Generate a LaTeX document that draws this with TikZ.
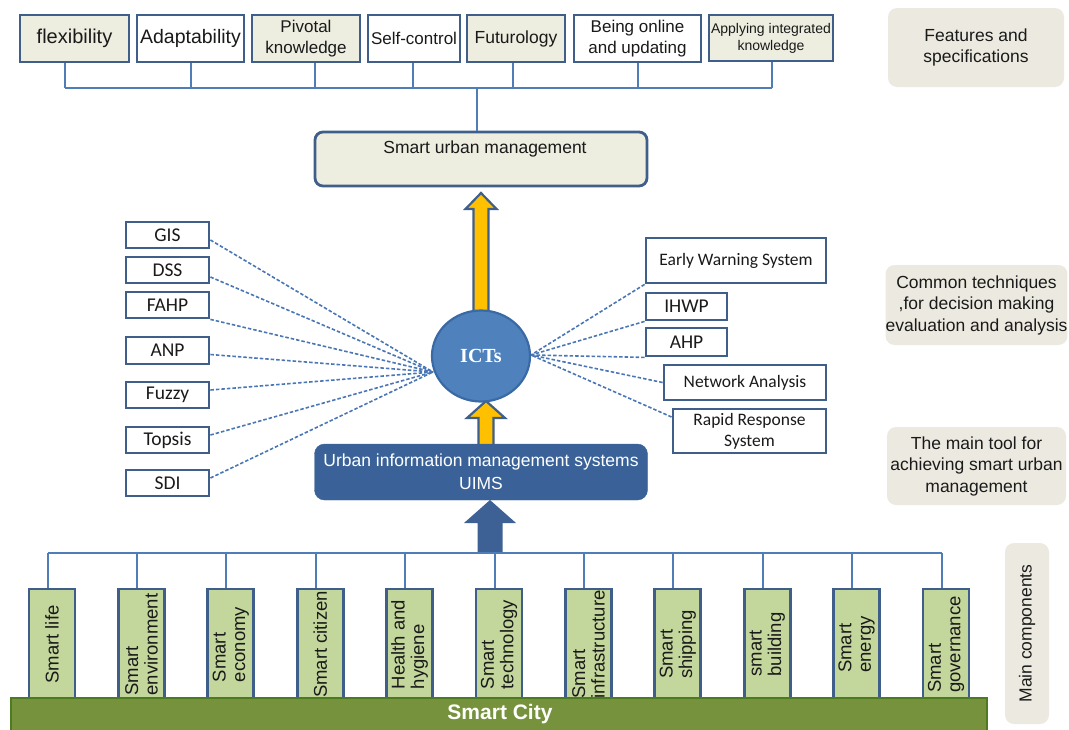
\documentclass[tikz,border=0pt]{standalone}
\usepackage{fontspec}
\setmainfont{Liberation Sans}
\newfontfamily\calfont{Carlito}
\newfontfamily\icfont{Liberation Serif}
\usetikzlibrary{shapes.geometric}
\definecolor{bordc}{HTML}{3F5E8A}
\definecolor{topfill}{HTML}{EDEEE0}
\definecolor{sidefill}{HTML}{ECEAE0}
\definecolor{connc}{HTML}{4F7DB8}
\definecolor{dashc}{HTML}{4A76B5}
\definecolor{ictfill}{HTML}{4F81BD}
\definecolor{ictdraw}{HTML}{3A6AA5}
\definecolor{uimsc}{HTML}{3A6298}
\definecolor{darkarrow}{HTML}{3D6194}
\definecolor{yell}{HTML}{FFC000}
\definecolor{compfill}{HTML}{C3D69B}
\definecolor{barc}{HTML}{76923C}
\definecolor{bardraw}{HTML}{4E7A22}
\definecolor{txt}{HTML}{1A1A1A}
\newcommand{\myfs}[2]{\fontsize{#1}{#2}\selectfont}
\begin{document}
\begin{tikzpicture}[x=1pt,y=-1pt,
  tbox/.style={draw=bordc, line width=2.8pt, inner sep=0pt, align=center, minimum height=47pt, text=txt},
  tfill/.style={tbox, fill=topfill},
  twhite/.style={tbox, fill=white},
  conn/.style={draw=connc, line width=1.8pt},
  tech/.style={draw=bordc, fill=white, line width=2.8pt, inner sep=0pt, align=center, text=txt, font=\calfont\myfs{19.5}{22}},
  dashline/.style={draw=dashc, line width=1.6pt, dash pattern=on 3.5pt off 2pt},
  side/.style={fill=sidefill, rounded corners=9pt, inner sep=0pt, align=center, text=txt, font=\myfs{17.5}{21.5}},
  comp/.style={draw=bordc, fill=compfill, line width=2.8pt, rotate=90, minimum width=111pt, minimum height=46pt, inner sep=0pt, align=left, text=txt, font=\myfs{18.5}{19.5}},
  arrowy/.style={fill=yell, draw=bordc, line width=2.2pt, line join=miter}
]
\useasboundingbox (0,0) rectangle (1069,729);

% ---- top features ----
\node[tfill, minimum width=109pt, font=\myfs{20}{24}] (flex) at (74.5,38.5) {flexibility};
\node[twhite, minimum width=107pt, font=\myfs{19.5}{24}] (adapt) at (190.5,38.5) {Adaptability};
\node[tfill, minimum width=108pt, font=\myfs{17}{21}] (pivot) at (306,38.5) {Pivotal\\knowledge};
\node[twhite, minimum width=92pt, font=\myfs{17}{21}] (selfc) at (414,38.5) {Self-control};
\node[tfill, minimum width=98pt, font=\myfs{17.5}{21}] (futur) at (516,38.5) {Futurology};
\node[twhite, minimum width=127pt, font=\myfs{17}{21}] (online) at (637.5,38.5) {Being online\\and updating};
\node[tfill, minimum width=124pt, minimum height=46pt, font=\myfs{14}{17}] (apply) at (771,38) {Applying integrated\\knowledge};

\coordinate (b1) at (65,88);
\coordinate (b2) at (191,88);
\coordinate (b3) at (315,88);
\coordinate (b4) at (413,88);
\coordinate (b5) at (513,88);
\coordinate (b6) at (638,88);
\coordinate (b7) at (772,88);
\coordinate (bc) at (477,88);
\draw[conn] (b1) -- (b7);
\draw[conn] (b1) -- (b1 |- flex.south);
\draw[conn] (b2) -- (b2 |- adapt.south);
\draw[conn] (b3) -- (b3 |- pivot.south);
\draw[conn] (b4) -- (b4 |- selfc.south);
\draw[conn] (b5) -- (b5 |- futur.south);
\draw[conn] (b6) -- (b6 |- online.south);
\draw[conn] (b7) -- (b7 |- apply.south);

% ---- side labels ----
\node[side, minimum width=176pt, minimum height=79pt] (feat) at (976,47.5) {Features and\\specifications};
\node[side, minimum width=179pt, minimum height=80pt] (common) at (976.5,305) {Common techniques\\,for decision making\\evaluation and analysis};
\node[side, minimum width=179pt, minimum height=78pt] (maintool) at (976.5,466) {The main tool for\\achieving smart urban\\management};
\node[side, rotate=90, minimum width=181pt, minimum height=44pt] (maincomp) at (1027,633.5) {Main components};

% ---- smart urban management ----
\node[draw=bordc, fill=topfill, line width=2.8pt, rounded corners=8pt, minimum width=332pt, minimum height=54pt, inner sep=0pt] (sum) at (481,159) {};
\node[text=txt, font=\myfs{17.5}{21}, anchor=center] (sumt) at (485,149) {Smart urban management};
\draw[conn] (bc) -- (bc |- sum.north);

% ---- yellow arrows ----
\path[arrowy] (473.5,312) -- (473.5,209) -- (465.5,209) -- (481,193) -- (496.5,209) -- (488.5,209) -- (488.5,312) -- cycle;
\path[arrowy] (478.5,446) -- (478.5,418) -- (467,418) -- (486,401) -- (505,418) -- (493.5,418) -- (493.5,446) -- cycle;

% ---- techniques ----
\node[tech, minimum width=83pt, minimum height=26pt] (gis) at (167.5,235) {GIS};
\node[tech, minimum width=83pt, minimum height=26pt] (dss) at (167.5,270) {DSS};
\node[tech, minimum width=83pt, minimum height=26pt] (fahp) at (167.5,305) {FAHP};
\node[tech, minimum width=83pt, minimum height=27pt] (anp) at (167.5,350.5) {ANP};
\node[tech, minimum width=83pt, minimum height=26pt] (fuzzy) at (167.5,395) {Fuzzy};
\node[tech, minimum width=83pt, minimum height=26pt] (topsis) at (167.5,440) {Topsis};
\node[tech, minimum width=83pt, minimum height=26pt] (sdi) at (167.5,483) {SDI};

\node[tech, minimum width=180pt, minimum height=45pt, font=\calfont\myfs{17.5}{21}] (ews) at (736,260.5) {Early Warning System};
\node[tech, minimum width=81pt, minimum height=27pt] (ihwp) at (686.5,306.5) {IHWP};
\node[tech, minimum width=81pt, minimum height=28pt] (ahp) at (686.5,342) {AHP};
\node[tech, minimum width=162pt, minimum height=35pt, font=\calfont\myfs{17.5}{21}] (netw) at (745,382.5) {Network Analysis};
\node[tech, minimum width=153pt, minimum height=44pt, font=\calfont\myfs{17.5}{21}] (rapid) at (749.5,431) {Rapid Response\\System};

\coordinate (lconv) at (433,372);
\coordinate (rconv) at (531,355);
\draw[dashline] ([yshift=-5pt]gis.east) -- (lconv);
\draw[dashline] ([yshift=-7pt]dss.east) -- (lconv);
\draw[dashline] (fahp.south east) -- (lconv);
\draw[dashline] ([yshift=-4pt]anp.east) -- (lconv);
\draw[dashline] ([yshift=5pt]fuzzy.east) -- (lconv);
\draw[dashline] ([yshift=5pt]topsis.east) -- (lconv);
\draw[dashline] ([yshift=5pt]sdi.east) -- (lconv);
\draw[dashline] (ews.south west) -- (rconv);
\draw[dashline] (ihwp.south west) -- (rconv);
\draw[dashline] (ahp.south west) -- (rconv);
\draw[dashline] (netw.west) -- (rconv);
\draw[dashline] ([yshift=14pt]rapid.west) -- (rconv);

% ---- ICTs ----
\node[ellipse, draw=ictdraw, fill=ictfill, line width=2.2pt, minimum width=98pt, minimum height=91pt, inner sep=0pt, text=white, font=\icfont\bfseries\myfs{20}{22}] (icts) at (481,356) {ICTs};

% ---- UIMS ----
\path[fill=darkarrow] (477.5,553) -- (477.5,523) -- (464,523) -- (490,500) -- (516,523) -- (502.5,523) -- (502.5,553) -- cycle;
\node[fill=uimsc, draw=uimsc, rounded corners=10pt, minimum width=333pt, minimum height=56pt, inner sep=0pt, align=center, text=white, font=\myfs{17.5}{23}] (uims) at (481,472) {Urban information management systems\\UIMS};

% ---- components ----
\coordinate (cb0) at (47.5,553);
\coordinate (cb10) at (941.5,553);
\draw[conn, line width=2pt] (cb0) -- (cb10);
\foreach \i/\lab in {0/{Smart life},1/{Smart\\environment},2/{Smart\\economy},3/{Smart citizen},4/{Health and\\hygiene},5/{Smart\\technology},6/{Smart\\infrastructure},7/{Smart\\shipping},8/{smart\\building},9/{Smart\\energy},10/{Smart\\governance}}{
  \node[comp] (c\i) at ({52+89.4*\i},644.5) {\lab};
  \coordinate (cl\i) at ({47.5+89.4*\i},553);
  \draw[conn, line width=2pt] (cl\i) -- (cl\i |- c\i.east);
}

% ---- Smart City bar ----
\node[fill=barc, draw=bardraw, line width=2pt, minimum width=976pt, minimum height=38pt, inner sep=0pt] (bar) at (499,717) {};
\node[text=white, font=\bfseries\myfs{21}{24}] (bart) at (500,714) {Smart City};
\end{tikzpicture}
\end{document}
